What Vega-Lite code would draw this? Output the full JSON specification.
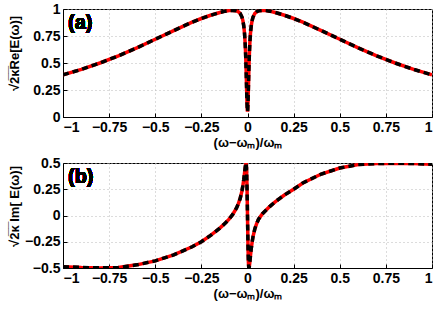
{
  "$schema": "https://vega.github.io/schema/vega-lite/v6.json",
  "autosize": {"type": "pad"},
  "padding": {"left": 7, "top": 1, "right": 0, "bottom": 0},
  "background": "white",
  "config": {
    "font": "Liberation Sans",
    "view": {"stroke": "black", "strokeWidth": 1},
    "concat": {"spacing": 5},
    "axis": {
      "labelFont": "Liberation Sans",
      "labelFontSize": 14,
      "labelFontWeight": "bold",
      "labelColor": "black",
      "labelOverlap": false,
      "labelExpr": "format(datum.value, '~g')",
      "domainColor": "black",
      "gridColor": "#b8b8b8",
      "gridDash": [1, 3],
      "gridWidth": 1,
      "ticks": true,
      "tickColor": "black",
      "tickSize": -4,
      "labelPadding": 7,
      "titleFont": "Liberation Sans",
      "titleFontSize": 13,
      "titleFontWeight": "bold",
      "titleColor": "black"
    }
  },
  "data": {
    "values": [
      {"x": -1, "re": 0.39, "im": -0.487},
      {"x": -0.9, "re": 0.441, "im": -0.495},
      {"x": -0.8, "re": 0.5, "im": -0.499},
      {"x": -0.7, "re": 0.566, "im": -0.496},
      {"x": -0.6, "re": 0.64, "im": -0.47},
      {"x": -0.5, "re": 0.72, "im": -0.432},
      {"x": -0.4, "re": 0.8, "im": -0.375},
      {"x": -0.3, "re": 0.878, "im": -0.298},
      {"x": -0.25, "re": 0.912, "im": -0.25},
      {"x": -0.2, "re": 0.942, "im": -0.19},
      {"x": -0.15, "re": 0.968, "im": -0.12},
      {"x": -0.12, "re": 0.98, "im": -0.072},
      {"x": -0.1, "re": 0.985, "im": -0.035},
      {"x": -0.08, "re": 0.987, "im": 0.01},
      {"x": -0.06, "re": 0.983, "im": 0.07},
      {"x": -0.05, "re": 0.975, "im": 0.11},
      {"x": -0.04, "re": 0.96, "im": 0.16},
      {"x": -0.03, "re": 0.925, "im": 0.235},
      {"x": -0.025, "re": 0.893, "im": 0.285},
      {"x": -0.02, "re": 0.84, "im": 0.345},
      {"x": -0.016, "re": 0.772, "im": 0.405},
      {"x": -0.013, "re": 0.692, "im": 0.45},
      {"x": -0.011, "re": 0.619, "im": 0.478},
      {"x": -0.009, "re": 0.525, "im": 0.492},
      {"x": -0.007, "re": 0.408, "im": 0.5},
      {"x": -0.005, "re": 0.274, "im": 0.43},
      {"x": -0.003, "re": 0.145, "im": 0.3},
      {"x": -0.001, "re": 0.062, "im": 0.11},
      {"x": 0, "re": 0.05, "im": 0},
      {"x": 0.001, "re": 0.062, "im": -0.11},
      {"x": 0.003, "re": 0.145, "im": -0.32},
      {"x": 0.005, "re": 0.274, "im": -0.45},
      {"x": 0.007, "re": 0.408, "im": -0.5},
      {"x": 0.009, "re": 0.525, "im": -0.495},
      {"x": 0.011, "re": 0.619, "im": -0.47},
      {"x": 0.013, "re": 0.692, "im": -0.44},
      {"x": 0.016, "re": 0.772, "im": -0.385},
      {"x": 0.02, "re": 0.84, "im": -0.32},
      {"x": 0.025, "re": 0.893, "im": -0.255},
      {"x": 0.03, "re": 0.925, "im": -0.2},
      {"x": 0.04, "re": 0.96, "im": -0.125},
      {"x": 0.05, "re": 0.975, "im": -0.075},
      {"x": 0.06, "re": 0.983, "im": -0.035},
      {"x": 0.08, "re": 0.987, "im": 0.015},
      {"x": 0.1, "re": 0.985, "im": 0.05},
      {"x": 0.12, "re": 0.98, "im": 0.085},
      {"x": 0.15, "re": 0.968, "im": 0.13},
      {"x": 0.2, "re": 0.942, "im": 0.195},
      {"x": 0.25, "re": 0.912, "im": 0.25},
      {"x": 0.3, "re": 0.878, "im": 0.31},
      {"x": 0.4, "re": 0.8, "im": 0.395},
      {"x": 0.5, "re": 0.72, "im": 0.452},
      {"x": 0.6, "re": 0.64, "im": 0.485},
      {"x": 0.7, "re": 0.566, "im": 0.495},
      {"x": 0.8, "re": 0.5, "im": 0.498},
      {"x": 0.9, "re": 0.441, "im": 0.495},
      {"x": 1, "re": 0.39, "im": 0.488}
    ]
  },
  "vconcat": [
    {
      "width": 369,
      "height": 108,
      "encoding": {
        "x": {"field": "x", "type": "quantitative", "scale": {"domain": [-1, 1], "nice": false},
          "axis": {"values": [-1, -0.75, -0.5, -0.25, 0, 0.25, 0.5, 0.75, 1], "title": "(ω−ωₘ)/ωₘ", "titlePadding": 2}},
        "y": {"field": "re", "type": "quantitative", "scale": {"domain": [0, 1], "nice": false},
          "axis": {"values": [0, 0.25, 0.5, 0.75, 1], "title": "√2̅κ̅Re[E(ω)]", "titleX": -49, "titleY": 44, "titleAngle": -90, "titleAlign": "center", "titleBaseline": "middle"}}
      },
      "layer": [
        {"mark": {"type": "line", "color": "#ff0000", "strokeWidth": 3.5, "clip": true}},
        {"mark": {"type": "line", "color": "black", "strokeWidth": 3.5, "strokeDash": [6, 4], "clip": true}},
        {"mark": {"type": "text", "text": "(a)", "fontSize": 20, "fontWeight": "bold", "align": "left", "baseline": "middle", "fill": "black", "stroke": null},
          "encoding": {"x": {"datum": -0.973, "type": "quantitative"}, "y": {"datum": 0.87, "type": "quantitative"}}}
      ]
    },
    {
      "width": 369,
      "height": 105,
      "encoding": {
        "x": {"field": "x", "type": "quantitative", "scale": {"domain": [-1, 1], "nice": false},
          "axis": {"values": [-1, -0.75, -0.5, -0.25, 0, 0.25, 0.5, 0.75, 1], "title": "(ω−ωₘ)/ωₘ", "titlePadding": 2}},
        "y": {"field": "im", "type": "quantitative", "scale": {"domain": [-0.5, 0.5], "nice": false},
          "axis": {"values": [-0.5, -0.25, 0, 0.25, 0.5], "title": "√2̅κ̅ Im[ E(ω)]", "titleX": -49, "titleY": 43, "titleAngle": -90, "titleAlign": "center", "titleBaseline": "middle"}}
      },
      "layer": [
        {"mark": {"type": "line", "color": "#ff0000", "strokeWidth": 3.5, "clip": true}},
        {"mark": {"type": "line", "color": "black", "strokeWidth": 3.5, "strokeDash": [6, 4], "clip": true}},
        {"mark": {"type": "text", "text": "(b)", "fontSize": 20, "fontWeight": "bold", "align": "left", "baseline": "middle", "fill": "black", "stroke": null},
          "encoding": {"x": {"datum": -0.973, "type": "quantitative"}, "y": {"datum": 0.37, "type": "quantitative"}}}
      ]
    }
  ]
}
